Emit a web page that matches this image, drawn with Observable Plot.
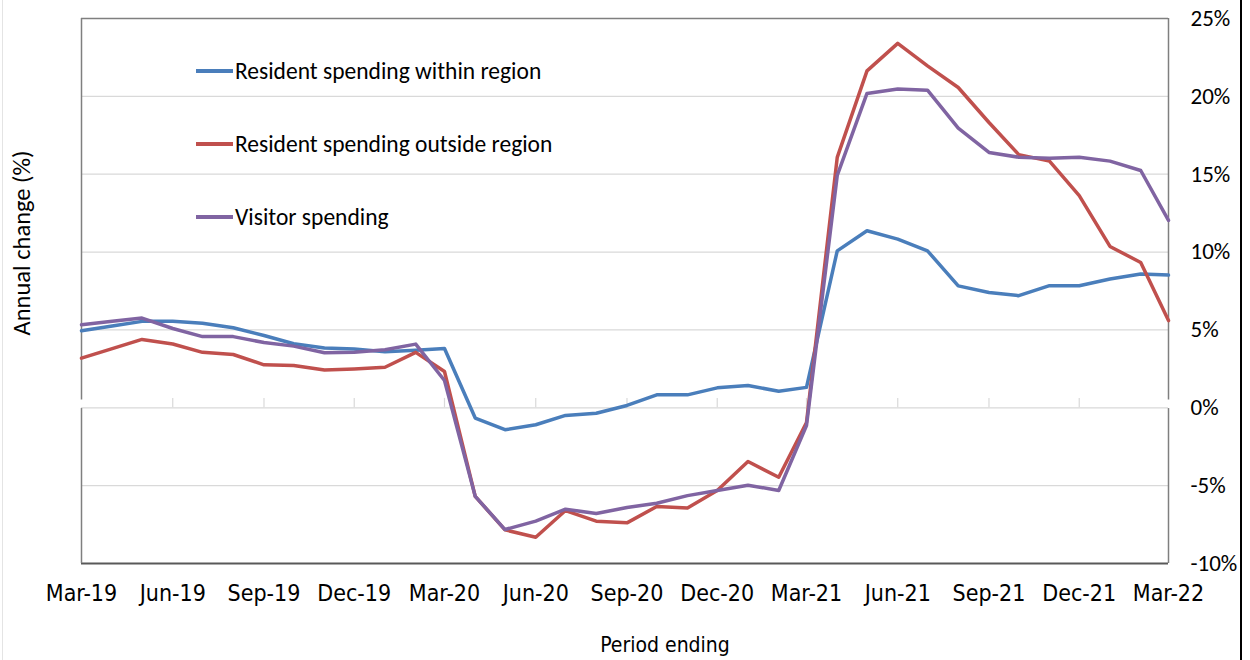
<!DOCTYPE html>
<html>
<head>
<meta charset="utf-8">
<script src="https://cdn.jsdelivr.net/npm/d3@7"></script>
<script src="https://cdn.jsdelivr.net/npm/@observablehq/plot@0.6"></script>
<style>
  body { margin: 0; background: #fff; }
  #wrap { position: relative; width: 1250px; height: 660px; overflow: hidden; background: #fff;
          font-family: Carlito, Lato, "Noto Sans", sans-serif; color: #000; }
  #chart { position: absolute; left: 0; top: 0; }
  .leg { position: absolute; left: 196px; height: 26px; display: flex; align-items: center; font-size: 23.5px; font-weight: 400; white-space: nowrap; }
  .leg .sw { width: 37px; height: 3.5px; margin-right: 2px; }
  #ylab { position: absolute; left: 22px; top: 243px; transform: translate(-50%, -50%) rotate(-90deg);
          font-size: 24.5px; white-space: nowrap; }
  #xlab { position: absolute; left: 665px; top: 645px; transform: translate(-50%, -50%);
          font-family: "Liberation Sans Narrow", "DejaVu Sans Condensed", Lato, sans-serif; font-size: 21px; white-space: nowrap; }
  #edgeR { position: absolute; left: 1240px; top: 0; width: 2px; height: 660px; background: #000; }
  #edgeL { position: absolute; left: 2px; top: 0; width: 1px; height: 660px; background: #e4e4e4; }
</style>
</head>
<body>
<div id="wrap">
  <div id="chart"></div>
  <div id="ylab">Annual change (%)</div>
  <div id="xlab">Period ending</div>
  <div id="edgeL"></div>
  <div id="edgeR"></div>
</div>
<script>
// ---- data ----
const months = [
  "2019-03","2019-04","2019-05","2019-06","2019-07","2019-08","2019-09","2019-10","2019-11","2019-12",
  "2020-01","2020-02","2020-03","2020-04","2020-05","2020-06","2020-07","2020-08","2020-09","2020-10","2020-11","2020-12",
  "2021-01","2021-02","2021-03","2021-04","2021-05","2021-06","2021-07","2021-08","2021-09","2021-10","2021-11","2021-12",
  "2022-01","2022-02","2022-03"
];
const seriesNames = ["Resident spending within region", "Resident spending outside region", "Visitor spending"];
const seriesColors = ["#4a7ebb", "#c0504d", "#8064a2"];
const withinRegion = [4.95,5.25,5.55,5.55,5.43,5.14,4.64,4.11,3.84,3.78,3.6,3.7,3.81,-0.66,-1.41,-1.09,-0.49,-0.35,0.15,0.83,0.83,1.28,1.43,1.06,1.31,10.08,11.37,10.83,10.08,7.83,7.4,7.2,7.84,7.84,8.27,8.59,8.52];
const outsideRegion = [3.19,3.8,4.39,4.1,3.56,3.42,2.76,2.72,2.42,2.49,2.6,3.56,2.33,-5.69,-7.84,-8.31,-6.6,-7.28,-7.39,-6.34,-6.43,-5.31,-3.45,-4.46,-0.94,16.08,21.64,23.4,21.96,20.57,18.32,16.26,15.84,13.63,10.36,9.33,5.6];
const visitor = [5.33,5.55,5.76,5.09,4.57,4.57,4.19,3.96,3.53,3.56,3.73,4.09,1.75,-5.69,-7.82,-7.28,-6.51,-6.79,-6.4,-6.13,-5.64,-5.31,-4.97,-5.31,-1.14,14.92,20.19,20.47,20.4,17.96,16.4,16.09,16.03,16.09,15.84,15.24,12.03];
const xTickMonths = ["2019-03","2019-06","2019-09","2019-12","2020-03","2020-06","2020-09","2020-12","2021-03","2021-06","2021-09","2021-12","2022-03"];
const yTicks = [-10,-5,0,5,10,15,20,25];
const gridLines = [-5,0,5,10,15,20];

// ---- build ----
const parse = d3.utcParse("%Y-%m");
const seriesValues = [withinRegion, outsideRegion, visitor];
const data = seriesNames.flatMap((s, k) => months.map((m, i) => ({date: parse(m), value: seriesValues[k][i], series: s})));
const xTicks = xTickMonths.map(parse);
const xFirst = parse(months[0]), xLast = parse(months[months.length - 1]);
const fmt = d3.utcFormat("%b-%y");

const chart = Plot.plot({
  width: 1250,
  height: 660,
  marginLeft: 81,
  marginRight: 82,
  marginTop: 18,
  marginBottom: 97,
  style: {background: "transparent", color: "#000", fontFamily: "Carlito, Lato, 'Noto Sans', sans-serif"},
  x: {type: "utc", domain: [xFirst, xLast]},
  y: {domain: [-10, 25]},
  color: {domain: seriesNames, range: seriesColors},
  marks: [
    Plot.ruleY(gridLines, {stroke: "#d9d9d9", strokeWidth: 1.2}),
    Plot.ruleX(xTicks.slice(1, -1), {y1: 0, y2: 0.6, stroke: "#d9d9d9", strokeWidth: 1.2}),
    // frame
    Plot.ruleY([25], {stroke: "#7f7f7f", strokeWidth: 1.3}),
    Plot.ruleY([-10], {stroke: "#595959", strokeWidth: 2}),
    Plot.ruleX([xFirst, xLast], {y1: 0.5, y2: 25, stroke: "#7f7f7f", strokeWidth: 1.5}),
    Plot.ruleX([xFirst, xLast], {y1: -10, y2: -0.05, stroke: "#7f7f7f", strokeWidth: 1.5}),
    Plot.line(data, {x: "date", y: "value", z: "series", stroke: "series", strokeWidth: 3.5, strokeLinejoin: "round", strokeLinecap: "round"}),
    Plot.axisX({ticks: xTicks, tickFormat: fmt, tickSize: 0, tickPadding: 21, label: null,
                fontSize: 23, fontFamily: "'Liberation Sans Narrow', 'DejaVu Sans Condensed', Lato, sans-serif"}),
    Plot.axisY({anchor: "right", ticks: yTicks, tickFormat: d => d + "%", tickSize: 0, tickPadding: 22, label: null, fontSize: 23})
  ]
});
document.getElementById("chart").appendChild(chart);

// legend
const legendTops = [58, 131, 204];
seriesNames.forEach((s, k) => {
  const row = document.createElement("div");
  row.className = "leg";
  row.style.top = legendTops[k] + "px";
  const sw = document.createElement("span");
  sw.className = "sw";
  sw.style.background = seriesColors[k];
  const tx = document.createElement("span");
  tx.textContent = s;
  row.appendChild(sw); row.appendChild(tx);
  document.getElementById("wrap").appendChild(row);
});
</script>
</body>
</html>
